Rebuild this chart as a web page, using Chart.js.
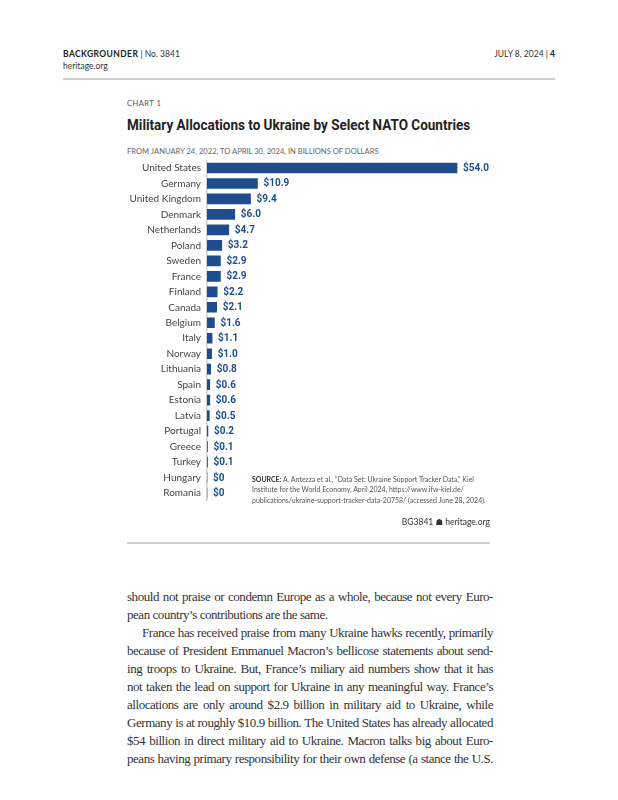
<!DOCTYPE html>
<html>
<head>
<meta charset="utf-8">
<script src="https://cdn.jsdelivr.net/npm/chart.js@4/dist/chart.umd.min.js"></script>
<style>
  body { margin: 0; background: #fff; width: 618px; height: 800px; position: relative; font-family: Lato, "Open Sans", sans-serif; }
  .abs { position: absolute; white-space: nowrap; }
  .rule { position: absolute; height: 2px; background: #cfcfcf; }
  .hdr { font-size: 8.5px; color: #333; }
  .line { position: absolute; left: 127px; width: 366px; font-family: "Liberation Serif", "DejaVu Serif", serif; font-size: 13px; letter-spacing: -0.45px; color: #333; text-align: justify; text-align-last: justify; white-space: nowrap; line-height: 18px; }
  .line.last { text-align-last: left; }
  .src { position: absolute; left: 252px; top: 473.5px; font-family: Lato, sans-serif; font-size: 8px; line-height: 10.8px; color: #555; transform: scaleX(0.87); transform-origin: 0 0; }
</style>
</head>
<body>
<div class="abs hdr" style="left:63px; top:49px;"><b style="letter-spacing:0.4px; color:#222;">BACKGROUNDER</b> | No. 3841</div>
<div class="abs hdr" style="left:63px; top:61px;">heritage.org</div>
<div class="abs hdr" style="right:63px; top:49px;">JULY 8, 2024 | <b style="color:#222;">4</b></div>
<div class="rule" style="left:63px; width:492px; top:78px;"></div>

<div class="abs" style="left:127px; top:99px; font-size:7.5px; color:#555; letter-spacing:0.5px;">CHART 1</div>
<div class="abs" style="left:127px; top:116px; font-size:15px; font-weight:bold; color:#222; font-family:Roboto, sans-serif; transform:scaleX(0.9); transform-origin:0 0;">Military Allocations to Ukraine by Select NATO Countries</div>
<div class="abs" style="left:127px; top:146px; font-size:7.6px; color:#666;">FROM JANUARY 24, 2022, TO APRIL 30, 2024, IN BILLIONS OF DOLLARS</div>

<canvas id="chart" width="400" height="345" style="position:absolute; left:110px; top:158px;"></canvas>

<div class="src"><b style="color:#333;">SOURCE:</b> A. Antezza et al., “Data Set: Ukraine Support Tracker Data,” Kiel<br>Institute for the World Economy, April 2024, https://www.ifw-kiel.de/<br>publications/ukraine-support-tracker-data-20758/ (accessed June 28, 2024).</div>

<div class="abs" style="right:128px; top:517px; font-size:8.5px; color:#333;">BG3841 <span style="font-family:'DejaVu Sans';">☗</span> heritage.org</div>
<div class="rule" style="left:127px; width:363px; top:542px;"></div>

<div class="line" style="top:588px;">should not praise or condemn Europe as a whole, because not every Euro-</div>
<div class="line last" style="top:606px;">pean country’s contributions are the same.</div>
<div class="line" style="top:624px; padding-left:15px; width:351px;">France has received praise from many Ukraine hawks recently, primarily</div>
<div class="line" style="top:642px;">because of President Emmanuel Macron’s bellicose statements about send-</div>
<div class="line" style="top:660px;">ing troops to Ukraine. But, France’s miliary aid numbers show that it has</div>
<div class="line" style="top:678px;">not taken the lead on support for Ukraine in any meaningful way. France’s</div>
<div class="line" style="top:696px;">allocations are only around $2.9 billion in military aid to Ukraine, while</div>
<div class="line" style="top:714px;">Germany is at roughly $10.9 billion. The United States has already allocated</div>
<div class="line" style="top:732px;">$54 billion in direct military aid to Ukraine. Macron talks big about Euro-</div>
<div class="line" style="top:750px;">peans having primary responsibility for their own defense (a stance the U.S.</div>

<script>
const countries = ['United States', 'Germany', 'United Kingdom', 'Denmark', 'Netherlands', 'Poland',
  'Sweden', 'France', 'Finland', 'Canada', 'Belgium', 'Italy', 'Norway', 'Lithuania', 'Spain',
  'Estonia', 'Latvia', 'Portugal', 'Greece', 'Turkey', 'Hungary', 'Romania'];
const allocations = [54.0, 10.9, 9.4, 6.0, 4.7, 3.2, 2.9, 2.9, 2.2, 2.1, 1.6, 1.1, 1.0, 0.8, 0.6,
  0.6, 0.5, 0.2, 0.1, 0.1, 0, 0];
const valueLabels = ['$54.0', '$10.9', '$9.4', '$6.0', '$4.7', '$3.2', '$2.9', '$2.9', '$2.2', '$2.1',
  '$1.6', '$1.1', '$1.0', '$0.8', '$0.6', '$0.6', '$0.5', '$0.2', '$0.1', '$0.1', '$0', '$0'];

const barBlue = '#1f4c8c';

// labels at the end of each bar
const valueLabelPlugin = {
  id: 'valueLabels',
  afterDatasetsDraw(chart) {
    const ctx = chart.ctx;
    const meta = chart.getDatasetMeta(0);
    ctx.save();
    ctx.font = 'bold 10px Roboto, sans-serif';
    ctx.fillStyle = barBlue;
    ctx.textBaseline = 'middle';
    ctx.textAlign = 'left';
    meta.data.forEach((bar, i) => {
      ctx.fillText(valueLabels[i], bar.x + 6, bar.y + 0.5);
    });
    ctx.restore();
  }
};

new Chart(document.getElementById('chart').getContext('2d'), {
  type: 'bar',
  data: {
    labels: countries,
    datasets: [{
      data: allocations,
      backgroundColor: barBlue,
      borderWidth: 0,
      barThickness: 10
    }]
  },
  options: {
    indexAxis: 'y',
    responsive: false,
    animation: false,
    devicePixelRatio: 1,
    layout: { padding: { top: 2.26, bottom: 2.24, right: 25.2, left: 0 } },
    plugins: { legend: { display: false }, tooltip: { enabled: false } },
    scales: {
      x: { display: false, min: 0, max: 60 },
      y: {
        afterFit(scale) {
          scale.width = 97;
          scale.paddingTop = 0;
          scale.paddingBottom = 0;
        },
        grid: { color: 'rgba(0,0,0,0)', drawTicks: false },
        border: { display: true, color: '#d0d0d0', width: 1.5 },
        ticks: { padding: 6, color: '#444', font: { size: 10, family: 'Lato, "Open Sans", sans-serif' } }
      }
    }
  },
  plugins: [valueLabelPlugin]
});
</script>
</body>
</html>
